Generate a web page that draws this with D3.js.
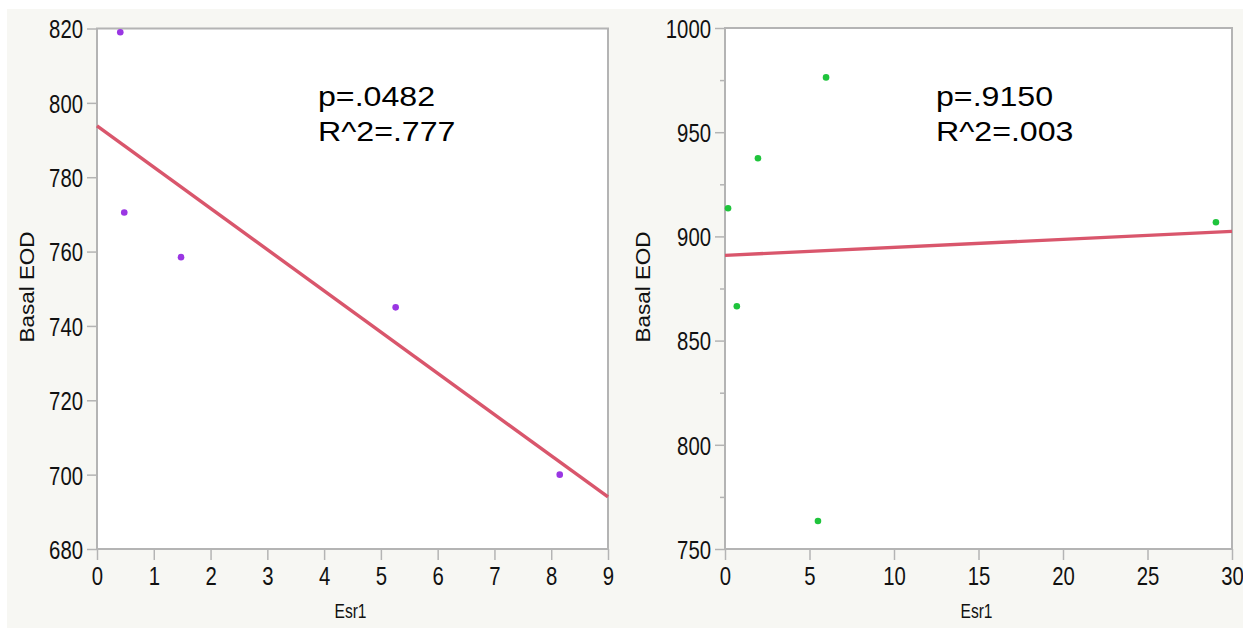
<!DOCTYPE html>
<html>
<head>
<meta charset="utf-8">
<script src="https://cdn.jsdelivr.net/npm/d3@7"></script>
<style>
  body { margin: 0; background: #fff; }
  .tick text { font-family: "Liberation Sans", Arial, sans-serif; font-size: 26px; fill: #111; }
  .tick line, .domain { stroke: #b4b4b4; }
  .axisTitle { font-family: "Liberation Sans", Arial, sans-serif; font-size: 20px; fill: #111; }
  .stat { font-family: "Liberation Sans", Arial, sans-serif; font-size: 27px; fill: #000; }
</style>
</head>
<body>
<div id="viz"></div>
<script>
// left panel
const leftX = [0.41, 0.48, 1.48, 5.26, 8.15];
const leftY = [819, 770.5, 758.5, 745, 700];
const leftFit = [[0, 793.8], [9, 694]];
const leftXTicks = [0, 1, 2, 3, 4, 5, 6, 7, 8, 9];
const leftYTicks = [680, 700, 720, 740, 760, 780, 800, 820];
const leftStats = ['p=.0482', 'R^2=.777'];

// right panel
const rightX = [0.18, 0.7, 1.95, 5.98, 5.5, 29.05];
const rightY = [913.5, 866.5, 937.5, 976.3, 763.4, 906.8];
const rightFit = [[0, 890.9], [30, 902.4]];
const rightXTicks = [0, 5, 10, 15, 20, 25, 30];
const rightYTicks = [750, 800, 850, 900, 950, 1000];
const rightYMinor = [775, 825, 875, 925, 975];
const rightStats = ['p=.9150', 'R^2=.003'];

const width = 1243;
const height = 634;

const svg = d3.select('#viz')
  .append('svg')
  .attr('width', width)
  .attr('height', height);

svg.append('rect')
  .attr('x', 7).attr('y', 9)
  .attr('width', width - 7).attr('height', height - 15)
  .attr('fill', '#f7f7f3');

// the source uses a narrow face, squeeze the labels to match
function narrow(s) {
  s.selectAll('.tick text')
    .attr('lengthAdjust', 'spacingAndGlyphs')
    .attr('textLength', function () { return this.textContent.length * 11.3; });
}

function panel(opts) {
  const x = d3.scaleLinear().domain(opts.xDomain).range(opts.xRange);
  const y = d3.scaleLinear().domain(opts.yDomain).range(opts.yRange);
  const g = svg.append('g');

  g.append('rect')
    .attr('x', x.range()[0]).attr('y', y.range()[1])
    .attr('width', x.range()[1] - x.range()[0])
    .attr('height', y.range()[0] - y.range()[1])
    .attr('fill', '#fff')
    .attr('stroke', '#b4b4b4')
    .attr('stroke-width', 2);

  const xAxis = d3.axisBottom(x)
    .tickValues(opts.xTicks)
    .tickFormat(d3.format('d'))
    .tickSize(11)
    .tickPadding(7)
    .tickSizeOuter(0);
  g.append('g')
    .attr('transform', `translate(0, ${y.range()[0]})`)
    .call(xAxis)
    .call(s => s.select('.domain').remove())
    .call(s => s.selectAll('.tick line').attr('stroke-width', 1.5))
    .call(narrow);

  const yAxis = d3.axisLeft(y)
    .tickValues(opts.yTicks)
    .tickFormat(d3.format('d'))
    .tickSize(10)
    .tickPadding(4)
    .tickSizeOuter(0);
  g.append('g')
    .attr('transform', `translate(${x.range()[0]}, 0)`)
    .call(yAxis)
    .call(s => s.select('.domain').remove())
    .call(s => s.selectAll('.tick line').attr('stroke-width', 1.5))
    .call(s => s.selectAll('.tick text').attr('dy', '0.36em'))
    .call(narrow);

  if (opts.yMinor) {
    g.append('g')
      .attr('transform', `translate(${x.range()[0]}, 0)`)
      .call(d3.axisLeft(y).tickValues(opts.yMinor).tickSize(5).tickFormat(''))
      .call(s => s.select('.domain').remove())
      .call(s => s.selectAll('.tick line').attr('stroke-width', 1.5));
  }

  // regression line
  g.append('line')
    .attr('x1', x(opts.fit[0][0])).attr('y1', y(opts.fit[0][1]))
    .attr('x2', x(opts.fit[1][0])).attr('y2', y(opts.fit[1][1]))
    .attr('stroke', '#d9566c')
    .attr('stroke-width', 3.4);

  g.selectAll('circle')
    .data(opts.xs.map((v, i) => [v, opts.ys[i]]))
    .enter()
    .append('circle')
    .attr('cx', d => x(d[0]))
    .attr('cy', d => y(d[1]))
    .attr('r', 3.3)
    .attr('fill', opts.color);

  // axis titles
  const xMid = (x.range()[0] + x.range()[1]) / 2;
  g.append('text')
    .attr('class', 'axisTitle')
    .attr('x', xMid - 2)
    .attr('y', 618)
    .attr('text-anchor', 'middle')
    .attr('lengthAdjust', 'spacingAndGlyphs')
    .attr('textLength', 32)
    .text('Esr1');

  g.append('text')
    .attr('class', 'axisTitle')
    .attr('transform', `translate(${opts.yTitleX}, ${opts.yTitleMid}) rotate(-90)`)
    .attr('text-anchor', 'middle')
    .attr('lengthAdjust', 'spacingAndGlyphs')
    .attr('textLength', 111)
    .text('Basal EOD');

  // picture is a bit wider than tall, stretch the stats text like the source
  g.selectAll('text.stat')
    .data(opts.stats)
    .enter()
    .append('text')
    .attr('class', 'stat')
    .attr('x', opts.statX)
    .attr('y', (d, i) => 106 + i * 35)
    .text(d => d)
    .attr('lengthAdjust', 'spacingAndGlyphs')
    .attr('textLength', function () { return this.getComputedTextLength() * 1.19; });
}

panel({
  xDomain: [0, 9], xRange: [97, 608],
  yDomain: [680, 820], yRange: [549, 28.5],
  xTicks: leftXTicks, yTicks: leftYTicks,
  xs: leftX, ys: leftY, fit: leftFit,
  color: '#9a36e3',
  stats: leftStats, statX: 318,
  yTitleX: 34, yTitleMid: 287,
});

panel({
  xDomain: [0, 30], xRange: [725, 1232],
  yDomain: [750, 1000], yRange: [549, 28],
  xTicks: rightXTicks, yTicks: rightYTicks, yMinor: rightYMinor,
  xs: rightX, ys: rightY, fit: rightFit,
  color: '#1fc43c',
  stats: rightStats, statX: 936,
  yTitleX: 650, yTitleMid: 287,
});
</script>
</body>
</html>
